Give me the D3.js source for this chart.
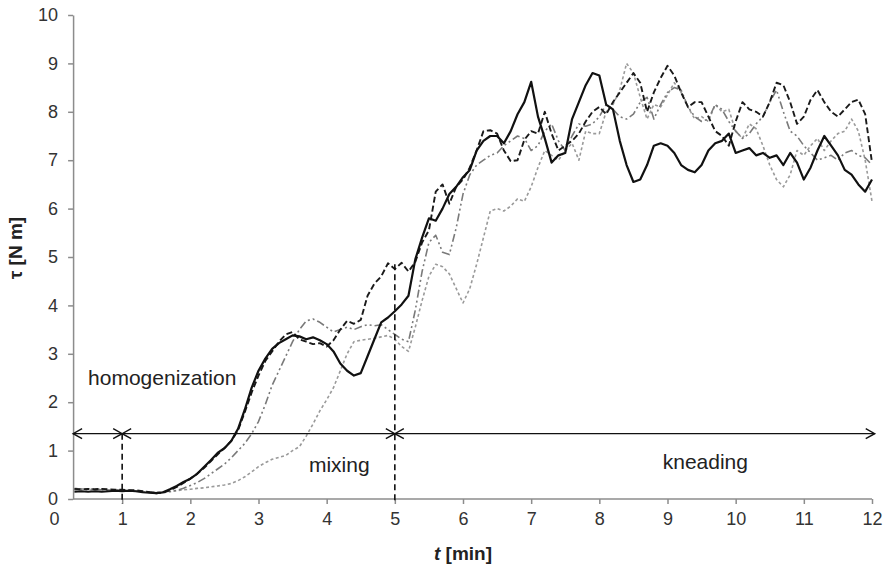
<!DOCTYPE html>
<html>
<head>
<meta charset="utf-8">
<script src="https://cdn.jsdelivr.net/npm/d3@7"></script>
<style>
	body { margin: 0; background: #fff; }
	svg { display: block; font-family: "Liberation Sans", Arial, sans-serif; }
	.axis path, .axis line { stroke: #8c8c8c; stroke-width: 1.5; }
	.axis text { fill: #333; font-size: 18px; }
	.note { fill: #222; font-size: 21px; }
</style>
</head>
<body>
<div id="chart"></div>
<script>

// time grid [min]
var times = [
	0.3,0.4,0.5,0.6,0.7,0.8,0.9,1.0,1.1,1.2,
	1.3,1.4,1.5,1.6,1.7,1.8,1.9,2.0,2.1,2.2,
	2.3,2.4,2.5,2.6,2.7,2.8,2.9,3.0,3.1,3.2,
	3.3,3.4,3.5,3.6,3.7,3.8,3.9,4.0,4.1,4.2,
	4.3,4.4,4.5,4.6,4.7,4.8,4.9,5.0,5.1,5.2,
	5.3,5.4,5.5,5.6,5.7,5.8,5.9,6.0,6.1,6.2,
	6.3,6.4,6.5,6.6,6.7,6.8,6.9,7.0,7.1,7.2,
	7.3,7.4,7.5,7.6,7.7,7.8,7.9,8.0,8.1,8.2,
	8.3,8.4,8.5,8.6,8.7,8.8,8.9,9.0,9.1,9.2,
	9.3,9.4,9.5,9.6,9.7,9.8,9.9,10.0,10.1,10.2,
	10.3,10.4,10.5,10.6,10.7,10.8,10.9,11.0,11.1,11.2,
	11.3,11.4,11.5,11.6,11.7,11.8,11.9,12.0
]

// torque [N m], one array per run
var solid = [
	0.15,0.16,0.15,0.16,0.15,0.16,0.17,0.16,0.17,0.16,
	0.14,0.13,0.12,0.14,0.20,0.27,0.35,0.42,0.52,0.66,
	0.80,0.95,1.05,1.20,1.45,1.85,2.30,2.65,2.90,3.10,
	3.22,3.30,3.38,3.36,3.30,3.34,3.28,3.20,3.05,2.80,
	2.65,2.55,2.60,2.95,3.30,3.65,3.75,3.88,4.02,4.20,
	4.95,5.40,5.80,5.75,6.00,6.30,6.45,6.65,6.80,7.20,
	7.40,7.50,7.50,7.35,7.60,7.95,8.20,8.62,7.90,7.45,
	6.95,7.10,7.15,7.85,8.20,8.55,8.80,8.75,8.15,8.05,
	7.40,6.90,6.55,6.60,6.90,7.30,7.35,7.30,7.15,6.90,
	6.80,6.75,6.90,7.20,7.35,7.40,7.55,7.15,7.20,7.25,
	7.10,7.15,7.05,7.10,6.90,7.15,6.95,6.60,6.85,7.20,
	7.50,7.30,7.10,6.80,6.70,6.50,6.35,6.60
]

var dashed = [
	0.21,0.20,0.21,0.20,0.21,0.20,0.19,0.19,0.18,0.18,
	0.16,0.14,0.12,0.13,0.18,0.25,0.33,0.42,0.52,0.64,
	0.78,0.92,1.05,1.20,1.42,1.80,2.20,2.55,2.85,3.05,
	3.25,3.40,3.45,3.30,3.25,3.20,3.22,3.15,3.28,3.50,
	3.68,3.62,3.70,4.20,4.45,4.60,4.87,4.75,4.88,4.70,
	4.90,5.30,5.55,6.35,6.50,6.10,6.45,6.60,6.85,7.20,
	7.60,7.62,7.55,7.20,6.98,7.00,7.42,7.60,7.55,8.00,
	7.55,7.20,7.30,7.40,7.55,7.80,8.00,8.10,7.95,8.20,
	8.40,8.60,8.80,8.60,8.00,8.40,8.70,8.95,8.75,8.40,
	8.10,8.20,8.20,7.90,7.60,7.50,7.30,7.80,8.20,8.05,
	8.00,7.90,8.20,8.60,8.55,8.20,7.75,7.90,8.25,8.45,
	8.20,8.00,7.90,8.05,8.20,8.25,7.95,6.95
]

var dashDot = [
	0.19,0.20,0.19,0.20,0.19,0.18,0.19,0.18,0.18,0.17,
	0.15,0.14,0.13,0.13,0.15,0.18,0.22,0.28,0.34,0.42,
	0.52,0.62,0.72,0.85,1.00,1.15,1.35,1.60,1.95,2.35,
	2.65,2.95,3.25,3.50,3.68,3.72,3.65,3.55,3.45,3.50,
	3.55,3.50,3.56,3.60,3.58,3.60,3.50,3.40,3.30,3.25,
	3.90,4.70,5.30,5.45,5.10,5.05,5.60,6.30,6.70,6.90,
	7.00,7.10,7.15,7.30,7.40,7.50,7.45,7.20,7.30,7.60,
	7.75,7.40,7.20,7.50,7.75,7.70,7.75,7.90,8.15,8.05,
	7.90,7.85,7.95,8.20,8.30,7.85,8.15,8.40,8.50,8.45,
	8.10,7.90,7.80,7.85,8.15,8.05,7.80,7.60,7.45,7.55,
	7.75,7.90,8.20,8.45,8.00,7.60,7.50,7.30,7.15,7.00,
	7.05,7.10,7.00,7.15,7.20,7.10,7.05,6.90
]

var shortDash = [
	0.22,0.21,0.20,0.21,0.20,0.19,0.19,0.18,0.18,0.17,
	0.16,0.15,0.14,0.15,0.16,0.17,0.19,0.20,0.22,0.23,
	0.25,0.27,0.29,0.32,0.38,0.46,0.56,0.67,0.75,0.82,
	0.86,0.90,1.00,1.08,1.30,1.55,1.82,2.05,2.30,2.65,
	3.00,3.25,3.28,3.30,3.32,3.35,3.38,3.30,3.15,3.05,
	3.55,4.10,4.60,4.85,4.80,4.65,4.35,4.05,4.35,4.85,
	5.40,5.95,6.00,5.95,6.05,6.20,6.15,6.45,6.85,7.20,
	7.10,7.00,7.20,7.35,7.00,7.60,7.55,7.55,8.00,8.15,
	8.45,9.00,8.80,8.30,7.85,8.15,8.10,8.35,8.60,8.40,
	8.10,7.85,7.90,7.80,8.15,8.00,8.05,7.60,7.45,7.75,
	7.65,7.30,6.90,6.60,6.45,6.70,7.20,7.10,7.30,7.45,
	7.20,7.40,7.55,7.60,7.85,7.60,7.00,6.15
]

var xTicks = [0,1,2,3,4,5,6,7,8,9,10,11,12]
var yTicks = [0,1,2,3,4,5,6,7,8,9,10]

// phase arrows (start, end) and their labels
var phases = [[0.28, 1], [1, 5], [5, 12.04]]
var phaseLevel = 1.35
var phaseLabels = [
	{ text: "homogenization", t: 0.5, v: 2.35 },
	{ text: "mixing", t: 3.74, v: 0.55 },
	{ text: "kneading", t: 8.93, v: 0.62 }
]
var markers = [[1, phaseLevel], [5, 4.85]]

var width = 883, height = 574
var xStart = 0.28

var svg = d3.select("#chart").append("svg")
	.attr("width", width)
	.attr("height", height)

var x = d3.scaleLinear().domain([0, 12]).range([54, 872])
var y = d3.scaleLinear().domain([0, 10]).range([499, 15])

var defs = svg.append("defs")
function arrowMarker(id, refX, path) {
	defs.append("marker")
		.attr("id", id)
		.attr("viewBox", "0 0 12 12")
		.attr("refX", refX).attr("refY", 6)
		.attr("markerWidth", 12).attr("markerHeight", 12)
		.attr("markerUnits", "userSpaceOnUse")
		.attr("orient", "auto")
		.append("path")
		.attr("d", path)
		.attr("fill", "none")
		.attr("stroke", "#111")
		.attr("stroke-width", 1.4)
}
arrowMarker("head", 10, "M1,1 L10,6 L1,11")
arrowMarker("tail", 2, "M11,1 L2,6 L11,11")

// axes
var xAxis = d3.axisBottom(x).tickValues(xTicks).tickSizeInner(5).tickSizeOuter(0).tickPadding(8)
var yAxis = d3.axisLeft(y).tickValues(yTicks).tickSizeInner(5).tickSizeOuter(0).tickPadding(10)

var gx = svg.append("g")
	.attr("class", "axis x")
	.attr("transform", "translate(0," + y(0) + ")")
	.call(xAxis)
gx.select(".domain").attr("d", "M" + x(xStart) + ",0H" + x(12))
gx.selectAll(".tick").filter(function(d) { return d == 0 }).select("line").remove()

svg.append("g")
	.attr("class", "axis y")
	.attr("transform", "translate(" + x(xStart) + ",0)")
	.call(yAxis)

// series
var series = [
	{ values: shortDash, color: "#9a9a9a", width: 1.6, dash: "3,2.5" },
	{ values: dashDot, color: "#7a7a7a", width: 1.6, dash: "8,3,2,3,2,3" },
	{ values: dashed, color: "#1a1a1a", width: 1.9, dash: "6,3" },
	{ values: solid, color: "#111", width: 2.2, dash: null }
]

var line = d3.line()
	.x(function(d, i) { return x(times[i]) })
	.y(function(d) { return y(d) })

series.forEach(function(s) {
	svg.append("path")
		.datum(s.values)
		.attr("fill", "none")
		.attr("stroke", s.color)
		.attr("stroke-width", s.width)
		.attr("stroke-dasharray", s.dash)
		.attr("stroke-linejoin", "round")
		.attr("d", line)
})

// phase marks
svg.selectAll(".marker")
	.data(markers)
	.enter().append("line")
	.attr("class", "marker")
	.attr("x1", function(d) { return x(d[0]) })
	.attr("x2", function(d) { return x(d[0]) })
	.attr("y1", function(d) { return y(d[1]) })
	.attr("y2", y(0) + 5)
	.attr("stroke", "#111")
	.attr("stroke-width", 1.6)
	.attr("stroke-dasharray", "6,4")

svg.selectAll(".phase")
	.data(phases)
	.enter().append("line")
	.attr("class", "phase")
	.attr("x1", function(d) { return x(d[0]) })
	.attr("x2", function(d) { return x(d[1]) })
	.attr("y1", y(phaseLevel))
	.attr("y2", y(phaseLevel))
	.attr("stroke", "#111")
	.attr("stroke-width", 1.4)
	.attr("marker-start", "url(#tail)")
	.attr("marker-end", "url(#head)")

svg.selectAll(".note")
	.data(phaseLabels)
	.enter().append("text")
	.attr("class", "note")
	.attr("x", function(d) { return x(d.t) })
	.attr("y", function(d) { return y(d.v) })
	.text(function(d) { return d.text })

// axis titles
var xt = svg.append("text")
	.attr("x", 463)
	.attr("y", 560)
	.attr("text-anchor", "middle")
	.style("font-size", "19px")
	.style("font-weight", "bold")
	.style("fill", "#222")
xt.append("tspan").style("font-style", "italic").text("t")
xt.append("tspan").text(" [min]")

svg.append("text")
	.attr("transform", "translate(22,248) rotate(-90)")
	.attr("text-anchor", "middle")
	.style("font-size", "19px")
	.style("font-weight", "bold")
	.style("fill", "#222")
	.text("τ [N m]")

</script>
</body>
</html>
